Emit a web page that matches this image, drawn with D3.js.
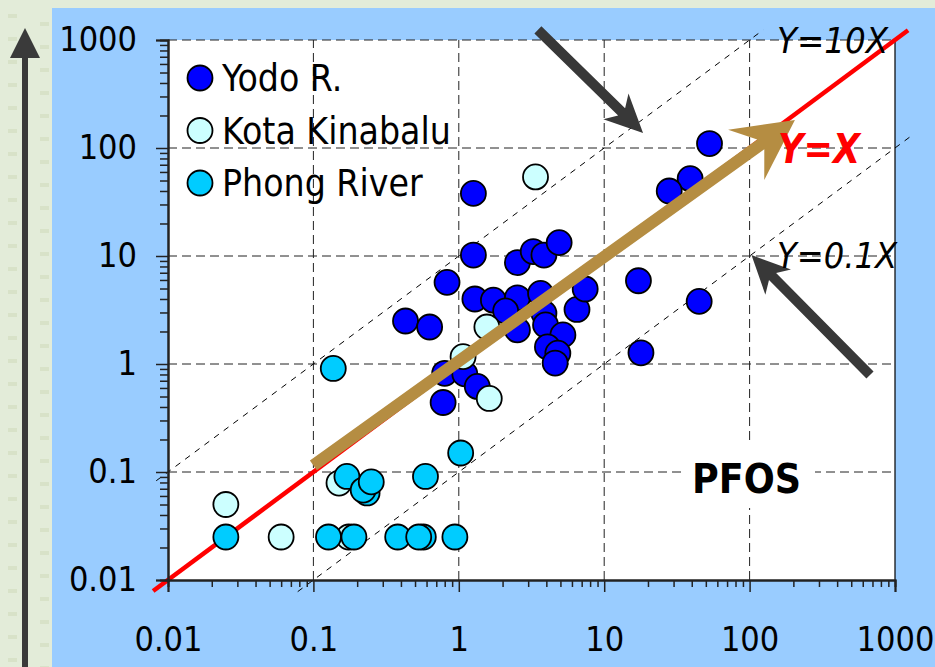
<!DOCTYPE html>
<html>
<head>
<meta charset="utf-8">
<script src="https://cdn.jsdelivr.net/npm/d3@7"></script>
<style>
  html, body { margin: 0; padding: 0; background: #e3ecd9; }
  svg { display: block; font-family: "DejaVu Sans", Verdana, sans-serif; font-stretch: condensed; }
</style>
</head>
<body>
<div id="chart"></div>
<script>
// tick labels
const xTickLabels = ["0.01", "0.1", "1", "10", "100", "1000"];
const yTickLabels = ["0.01", "0.1", "1", "10", "100", "1000"];

// series
const seriesNames = ["Yodo R.", "Kota Kinabalu", "Phong River"];
const seriesColors = ["#0000ff", "#ccffff", "#00ccff"];

const yodoX = [1.26, 1.26, 2.53, 3.25, 3.85, 4.9, 0.83, 0.43, 0.63, 1.29, 1.73, 2.53, 3.65, 2.1, 2.53,
  3.85, 3.95, 5.2, 4.07, 4.8, 4.6, 6.5, 7.4, 17.2, 45, 17.9, 53, 39, 28, 0.8, 1.1, 1.34, 0.78];
const yodoY = [38, 10.2, 8.7, 11.0, 10.2, 13.3, 5.7, 2.5, 2.2, 4.0, 3.9, 4.1, 4.5, 3.1, 2.07,
  2.95, 2.3, 1.86, 1.44, 1.26, 1.02, 3.2, 4.95, 5.9, 3.8, 1.27, 110, 52, 40, 0.82, 0.81, 0.62, 0.44];

const kotaX = [3.37, 1.56, 1.07, 1.62, 0.025, 0.06, 0.15, 0.175];
const kotaY = [54, 2.2, 1.17, 0.48, 0.05, 0.025, 0.079, 0.025];

const phongX = [0.025, 0.127, 0.19, 0.38, 0.57, 0.53, 0.94, 0.17, 0.234, 0.22, 0.25, 0.59, 1.03, 0.137];
const phongY = [0.025, 0.025, 0.025, 0.025, 0.025, 0.025, 0.025, 0.091, 0.064, 0.068, 0.081, 0.091, 0.15, 0.91];

// reference lines y = k * x
const refK = [10, 1, 0.1];
const refX0 = [0.0083, 0.0079, 0.078];
const refX1 = [124, 1230, 1270];

const width = 935, height = 667;
const svg = d3.select('#chart').append('svg')
  .attr('width', width)
  .attr('height', height);

// background strip decorations
const deco = svg.append('g');
d3.range(14, 667, 23).forEach(function (yy) {
  deco.append('rect').attr('x', 8).attr('y', yy).attr('width', 9).attr('height', 4).attr('fill', '#d8e2c8');
  deco.append('rect').attr('x', 40).attr('y', yy + 8).attr('width', 9).attr('height', 4).attr('fill', '#d8e2c8');
});

// left vertical arrow
svg.append('rect').attr('x', 22).attr('y', 56).attr('width', 6).attr('height', height - 56).attr('fill', '#3a3a3a');
svg.append('path').attr('d', 'M25,28 L40,58 L10,58 Z').attr('fill', '#3a3a3a');

// blue panel
svg.append('rect').attr('x', 52).attr('y', 8).attr('width', width - 52).attr('height', height - 8).attr('fill', '#99ccff');

const x = d3.scaleLog().domain([0.01, 1000]).range([168, 895]);
const y = d3.scaleLog().domain([0.01, 1000]).range([580, 40]);

const majors = [0.01, 0.1, 1, 10, 100, 1000];
const minors = [];
[0.01, 0.1, 1, 10, 100].forEach(function (d) {
  for (let m = 2; m <= 9; m++) minors.push(d * m);
});

// plot area
svg.append('rect')
  .attr('x', x(0.01)).attr('y', y(1000))
  .attr('width', x(1000) - x(0.01)).attr('height', y(0.01) - y(1000))
  .attr('fill', '#fff');

// grid
const grid = svg.append('g').attr('stroke', '#222').attr('stroke-width', 1).attr('stroke-dasharray', '9,5');
grid.selectAll('.vg').data([0.1, 1, 10, 100]).enter().append('line')
  .attr('x1', d => x(d)).attr('x2', d => x(d))
  .attr('y1', y(0.01)).attr('y2', y(1000));
grid.selectAll('.hg').data([0.1, 1, 10, 100, 1000]).enter().append('line')
  .attr('y1', d => y(d)).attr('y2', d => y(d))
  .attr('x1', x(0.01)).attr('x2', x(1000));

// right border
svg.append('line')
  .attr('x1', x(1000)).attr('x2', x(1000)).attr('y1', y(1000)).attr('y2', y(0.01))
  .attr('stroke', '#000').attr('stroke-width', 1.2);

// PFOS white box (covers gridlines)
svg.append('rect').attr('x', 682).attr('y', 442).attr('width', 133).attr('height', 66).attr('fill', '#fff');

// reference lines
const lineGen = d3.line().x(d => x(d[0])).y(d => y(d[1]));
refK.forEach(function (k, i) {
  const pts = [[refX0[i], refX0[i] * k], [refX1[i], refX1[i] * k]];
  svg.append('path')
    .attr('d', lineGen(pts))
    .attr('fill', 'none')
    .attr('stroke', k === 1 ? '#ff0000' : '#000')
    .attr('stroke-width', k === 1 ? 4.5 : 1)
    .attr('stroke-dasharray', k === 1 ? null : '6,6');
});

// axes
const xAxis = d3.axisBottom(x).tickValues(majors).tickSize(12).tickPadding(35)
  .tickFormat((d, i) => xTickLabels[i]);
const xMinor = d3.axisBottom(x).tickValues(minors).tickSize(7).tickFormat('');
const yAxis = d3.axisLeft(y).tickValues(majors).tickSize(12).tickPadding(19)
  .tickFormat((d, i) => yTickLabels[i]);
const yMinor = d3.axisLeft(y).tickValues(minors).tickSize(8).tickFormat('');

function styleAxis(g) {
  g.select('.domain').attr('stroke', '#222').attr('stroke-width', 2);
  g.selectAll('.tick line').attr('stroke', '#222').attr('stroke-width', 1.5);
  g.selectAll('text').attr('font-size', 34).attr('fill', '#000')
    .attr('font-family', '"DejaVu Sans", Verdana, sans-serif');
}
svg.append('g').attr('transform', `translate(0,${y(0.01)})`).call(xMinor).call(styleAxis);
svg.append('g').attr('transform', `translate(0,${y(0.01)})`).call(xAxis).call(styleAxis);
svg.append('g').attr('transform', `translate(${x(0.01)},0)`).call(yMinor).call(styleAxis);
svg.append('g').attr('transform', `translate(${x(0.01)},0)`).call(yAxis).call(styleAxis);

// points
const series = [
  { xs: yodoX, ys: yodoY, color: seriesColors[0] },
  { xs: kotaX, ys: kotaY, color: seriesColors[1] },
  { xs: phongX, ys: phongY, color: seriesColors[2] }
];
series.forEach(function (s) {
  svg.append('g').selectAll('circle')
    .data(s.xs.map((v, i) => [v, s.ys[i]]))
    .enter().append('circle')
    .attr('cx', d => x(d[0]))
    .attr('cy', d => y(d[1]))
    .attr('r', 12.5)
    .attr('fill', s.color)
    .attr('stroke', '#000')
    .attr('stroke-width', 1.8);
});

// legend
const legend = svg.append('g');
seriesNames.forEach(function (name, i) {
  const cy = 78 + i * 52.5;
  legend.append('circle').attr('cx', 200).attr('cy', cy).attr('r', 12.5)
    .attr('fill', seriesColors[i]).attr('stroke', '#000').attr('stroke-width', 1.8);
  legend.append('text').attr('x', 222).attr('y', cy).attr('dy', '0.36em')
    .attr('font-size', 37).text(name);
});

// arrows (data space endpoints)
const arrowFrom = [[0.1, 0.115], [3.5, 1240], [673, 0.79]];
const arrowTo = [[205, 182], [18.5, 138], [103, 10.2]];
const arrowColor = ['#b58d42', '#383838', '#383838'];
const arrowShape = [[12, 60, 31, 18], [10, 38, 18, 8], [10, 38, 18, 8]];

arrowFrom.forEach(function (a, i) {
  const x0 = x(a[0]), y0 = y(a[1]);
  const x1 = x(arrowTo[i][0]), y1 = y(arrowTo[i][1]);
  const len = Math.hypot(x1 - x0, y1 - y0);
  const ang = Math.atan2(y1 - y0, x1 - x0) * 180 / Math.PI;
  const [w, L, H, n] = arrowShape[i];
  const pts = [[0, -w / 2], [len - L + n, -w / 2], [len - L, -H], [len, 0],
    [len - L, H], [len - L + n, w / 2], [0, w / 2]];
  svg.append('path')
    .attr('d', 'M' + pts.map(p => p.join(',')).join('L') + 'Z')
    .attr('transform', `translate(${x0},${y0}) rotate(${ang})`)
    .attr('fill', arrowColor[i]);
});

// labels
svg.append('text').attr('x', 777).attr('y', 53).attr('font-size', 36).attr('font-style', 'italic')
  .attr('textLength', 111).attr('lengthAdjust', 'spacingAndGlyphs').text('Y=10X');
svg.append('text').attr('x', 778).attr('y', 163).attr('font-size', 40).attr('font-style', 'italic')
  .attr('font-weight', 'bold').attr('fill', '#ff0000')
  .attr('textLength', 82).attr('lengthAdjust', 'spacingAndGlyphs').text('Y=X');
svg.append('text').attr('x', 777).attr('y', 268).attr('font-size', 36).attr('font-style', 'italic')
  .attr('textLength', 120).attr('lengthAdjust', 'spacingAndGlyphs').text('Y=0.1X');
svg.append('text').attr('x', 692).attr('y', 493).attr('font-size', 40).attr('font-weight', 'bold')
  .attr('textLength', 109).attr('lengthAdjust', 'spacingAndGlyphs').text('PFOS');
</script>
</body>
</html>
